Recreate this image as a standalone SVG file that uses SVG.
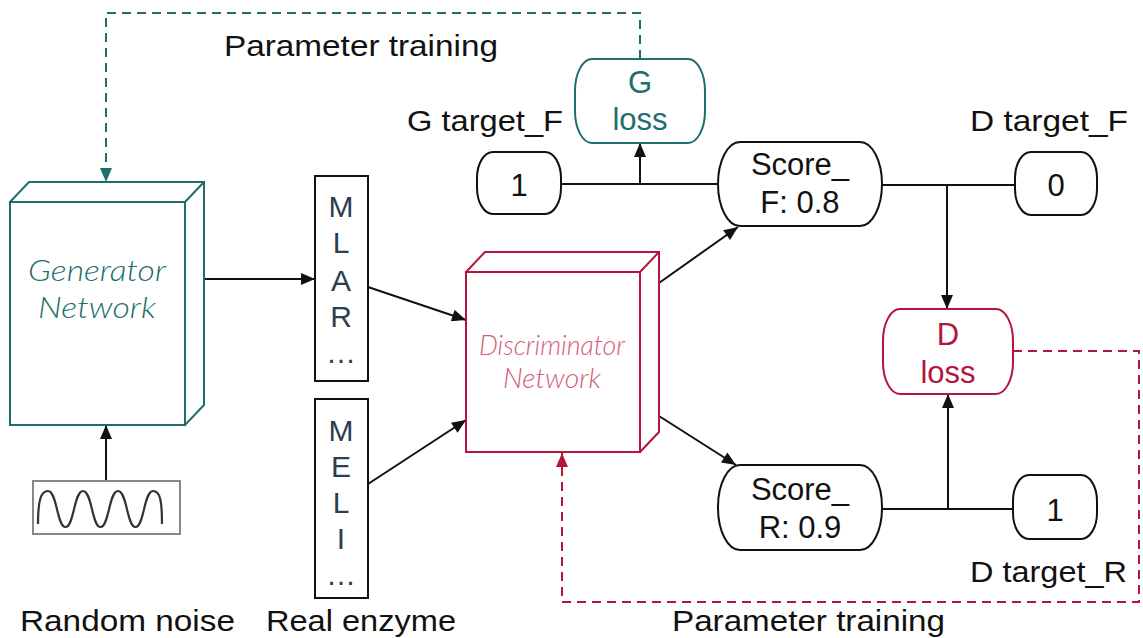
<svg xmlns="http://www.w3.org/2000/svg" width="1143" height="638" viewBox="0 0 1143 638">
<defs>
<style>
text{font-family:"Liberation Sans",Arial,sans-serif;}
.lbl{font-size:30px;fill:#111;}
.blk{fill:#fff;stroke:#111;stroke-width:2;}
.teal{fill:#fff;stroke:#1e6e6b;stroke-width:2;}
.red{fill:#fff;stroke:#b5153a;stroke-width:2;}
.conn{fill:none;stroke:#111;stroke-width:2;}
.tdash{fill:none;stroke:#1e6e6b;stroke-width:2;stroke-dasharray:9 6;}
.rdash{fill:none;stroke:#b5153a;stroke-width:2;stroke-dasharray:9 6;}
.seq{font-size:30px;fill:#2c3e50;text-anchor:middle;}
.score{font-size:31px;fill:#111;text-anchor:middle;}
.net{font-family:Lato,"Liberation Sans",sans-serif;font-style:italic;font-weight:300;text-anchor:middle;}
</style>
<marker id="ab" viewBox="0 0 14 12" refX="14" refY="6" markerWidth="15" markerHeight="12" markerUnits="userSpaceOnUse" orient="auto"><path d="M0,0 L14,6 L0,12 z" fill="#111"/></marker>
<marker id="at" viewBox="0 0 14 12" refX="14" refY="6" markerWidth="15" markerHeight="12" markerUnits="userSpaceOnUse" orient="auto"><path d="M0,0 L14,6 L0,12 z" fill="#1e6e6b"/></marker>
<marker id="ar" viewBox="0 0 14 12" refX="14" refY="6" markerWidth="15" markerHeight="12" markerUnits="userSpaceOnUse" orient="auto"><path d="M0,0 L14,6 L0,12 z" fill="#b5153a"/></marker>
</defs>
<rect width="1143" height="638" fill="#fff"/>

<g id="connectors">
<line class="conn" x1="204" y1="279" x2="315" y2="279" marker-end="url(#ab)"/>
<line class="conn" x1="106" y1="481" x2="106" y2="425" marker-end="url(#ab)"/>
<line class="conn" x1="368" y1="287" x2="466" y2="320" marker-end="url(#ab)"/>
<line class="conn" x1="368" y1="484" x2="466" y2="420" marker-end="url(#ab)"/>
<line class="conn" x1="659" y1="283" x2="738" y2="227" marker-end="url(#ab)"/>
<line class="conn" x1="659" y1="416" x2="736" y2="465" marker-end="url(#ab)"/>
<line class="conn" x1="561" y1="184" x2="718" y2="184"/>
<line class="conn" x1="640" y1="184" x2="640" y2="143" marker-end="url(#ab)"/>
<line class="conn" x1="882" y1="185" x2="1015" y2="185"/>
<line class="conn" x1="947" y1="185" x2="947" y2="309" marker-end="url(#ab)"/>
<line class="conn" x1="882" y1="509" x2="1013" y2="509"/>
<line class="conn" x1="948" y1="509" x2="948" y2="394" marker-end="url(#ab)"/>
<path class="tdash" d="M640,59 V13 H106 V182" marker-end="url(#at)"/>
<path class="rdash" d="M1013,351 H1139 V602 H562 V453" marker-end="url(#ar)"/>
</g>

<g id="generator">
<path class="teal" d="M10,202 L29,182 L204,182 L204,405 L185,425 Z"/>
<rect class="teal" x="10" y="202" width="175" height="223"/>
<line class="teal" x1="185" y1="202" x2="204" y2="182"/>
<text class="net" x="97" y="281" font-size="30" fill="#1e6e6b" textLength="138" lengthAdjust="spacingAndGlyphs">Generator</text>
<text class="net" x="97" y="318" font-size="30" fill="#1e6e6b" textLength="118" lengthAdjust="spacingAndGlyphs">Network</text>
</g>

<g id="noise">
<rect x="33" y="481" width="147" height="53" fill="#fff" stroke="#888" stroke-width="2"/>
<path d="M38,524 C38,500 41,491 48,491 C57,491 57,527 65.5,527 C74,527 74,491 83,491 C92,491 92,527 100.5,527 C109,527 109,491 118,491 C127,491 127,527 135.5,527 C144,527 144,491 153,491 C160,491 162,500 162,524" fill="none" stroke="#333" stroke-width="2.2"/>
</g>

<g id="fake-seq">
<rect class="blk" x="315" y="176" width="53" height="205"/>
<text class="seq" x="341" y="217">M</text>
<text class="seq" x="341" y="253">L</text>
<text class="seq" x="341" y="291">A</text>
<text class="seq" x="341" y="327">R</text>
<text class="seq" x="341" y="363">…</text>
</g>

<g id="real-seq">
<rect class="blk" x="315" y="399" width="53" height="199"/>
<text class="seq" x="341" y="441">M</text>
<text class="seq" x="341" y="477">E</text>
<text class="seq" x="341" y="513">L</text>
<text class="seq" x="341" y="549">I</text>
<text class="seq" x="341" y="585">…</text>
</g>

<g id="discriminator">
<path class="red" d="M466,272 L485,252 L659,252 L659,432 L640,452 Z"/>
<rect class="red" x="466" y="272" width="174" height="180"/>
<line class="red" x1="640" y1="272" x2="659" y2="252"/>
<text class="net" x="552" y="355" font-size="27" fill="#d65c76" textLength="146" lengthAdjust="spacingAndGlyphs">Discriminator</text>
<text class="net" x="552" y="388" font-size="27" fill="#d65c76" textLength="98" lengthAdjust="spacingAndGlyphs">Network</text>
</g>

<g id="g-target">
<rect class="blk" x="477" y="152" width="84" height="62" rx="16" ry="26"/>
<text class="score" x="519" y="196">1</text>
</g>

<g id="g-loss">
<rect class="teal" x="575" y="59" width="130" height="84" rx="17" ry="32"/>
<text x="640" y="93" font-size="31" fill="#1e6e6b" text-anchor="middle">G</text>
<text x="640" y="130" font-size="31" fill="#1e6e6b" text-anchor="middle">loss</text>
</g>

<g id="score-f">
<rect class="blk" x="718" y="142" width="164" height="84" rx="22" ry="42"/>
<text class="score" x="800" y="175">Score_</text>
<text class="score" x="800" y="213">F: 0.8</text>
</g>

<g id="d-target-f">
<rect class="blk" x="1015" y="152" width="82" height="63" rx="16" ry="26"/>
<text class="score" x="1056" y="196">0</text>
</g>

<g id="d-loss">
<rect class="red" x="883" y="309" width="130" height="85" rx="17" ry="32"/>
<text x="948" y="345" font-size="31" fill="#b5153a" text-anchor="middle">D</text>
<text x="948" y="383" font-size="31" fill="#b5153a" text-anchor="middle">loss</text>
</g>

<g id="score-r">
<rect class="blk" x="718" y="465" width="164" height="85" rx="22" ry="42"/>
<text class="score" x="800" y="500">Score_</text>
<text class="score" x="800" y="538">R: 0.9</text>
</g>

<g id="d-target-r">
<rect class="blk" x="1013" y="475" width="84" height="64" rx="16" ry="26"/>
<text class="score" x="1055" y="521">1</text>
</g>

<g id="labels">
<text class="lbl" x="224" y="56" textLength="274" lengthAdjust="spacingAndGlyphs">Parameter training</text>
<text class="lbl" x="407" y="131" textLength="156" lengthAdjust="spacingAndGlyphs">G target_F</text>
<text class="lbl" x="970" y="131" textLength="158" lengthAdjust="spacingAndGlyphs">D target_F</text>
<text class="lbl" x="970" y="582" textLength="157" lengthAdjust="spacingAndGlyphs">D target_R</text>
<text class="lbl" x="20" y="631" textLength="215" lengthAdjust="spacingAndGlyphs">Random noise</text>
<text class="lbl" x="266" y="631" textLength="190" lengthAdjust="spacingAndGlyphs">Real enzyme</text>
<text class="lbl" x="672" y="631" textLength="273" lengthAdjust="spacingAndGlyphs">Parameter training</text>
</g>
</svg>
